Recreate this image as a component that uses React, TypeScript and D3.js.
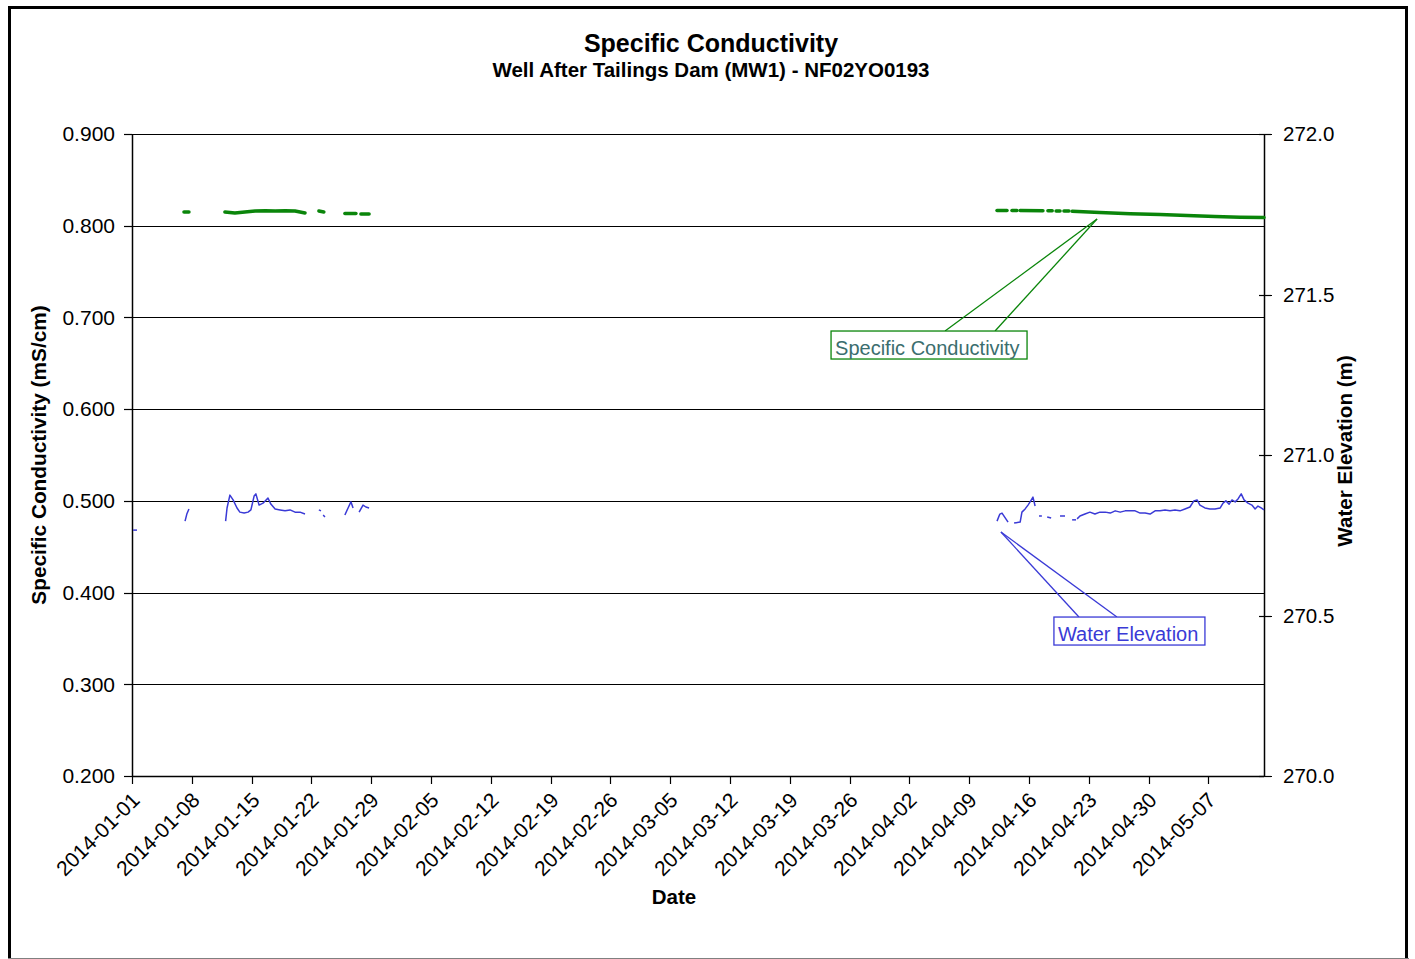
import React from "react";
import * as d3 from "d3";

// ---- Data ----
const chartTitle = "Specific Conductivity";
const chartSubtitle = "Well After Tailings Dam (MW1) - NF02YO0193";
const leftTicks = [0.2, 0.3, 0.4, 0.5, 0.6, 0.7, 0.8, 0.9];
const rightTicks = [270.0, 270.5, 271.0, 271.5, 272.0];

// Specific conductivity (mS/cm), segments of [datetime, value]
const condSegments: [string, number][][] = [
  [["2014-01-07 02:00", 0.815], ["2014-01-07 16:00", 0.815]],
  [
    ["2014-01-11 21:00", 0.815], ["2014-01-13 01:00", 0.8139], ["2014-01-14 05:00", 0.815],
    ["2014-01-15 10:00", 0.816], ["2014-01-16 14:00", 0.8162], ["2014-01-17 18:00", 0.816],
    ["2014-01-18 22:00", 0.8162], ["2014-01-20 02:00", 0.816], ["2014-01-20 16:00", 0.815],
    ["2014-01-21 06:00", 0.8139],
  ],
  [["2014-01-22 21:00", 0.816], ["2014-01-23 11:00", 0.815]],
  [["2014-01-25 22:00", 0.8133], ["2014-01-27 05:00", 0.8133]],
  [["2014-01-27 19:00", 0.8128], ["2014-01-28 18:00", 0.8128]],
  [["2014-04-12 06:00", 0.8165], ["2014-04-13 10:00", 0.8165]],
  [["2014-04-14 00:00", 0.8165], ["2014-04-14 14:00", 0.8165]],
  [["2014-04-14 23:00", 0.8165], ["2014-04-17 15:00", 0.8163]],
  [["2014-04-18 05:00", 0.8162], ["2014-04-18 17:00", 0.8162]],
  [["2014-04-19 04:00", 0.8161], ["2014-04-19 15:00", 0.8161]],
  [["2014-04-20 02:00", 0.816], ["2014-04-20 16:00", 0.816]],
  [
    ["2014-04-21 01:00", 0.8157], ["2014-04-24 07:00", 0.8145], ["2014-04-27 20:00", 0.813],
    ["2014-05-01 08:00", 0.8122], ["2014-05-04 12:00", 0.8112], ["2014-05-07 18:00", 0.81],
    ["2014-05-10 17:00", 0.8092], ["2014-05-13 12:00", 0.809],
  ],
];

// Water elevation (m), segments of [datetime, value]
const elevSegments: [string, number][][] = [
  [["2014-01-01 03:00", 270.766], ["2014-01-01 14:00", 270.766]],
  [["2014-01-07 05:00", 270.794], ["2014-01-07 10:00", 270.816], ["2014-01-07 16:00", 270.832]],
  [
    ["2014-01-11 23:00", 270.794], ["2014-01-12 03:00", 270.835], ["2014-01-12 11:00", 270.875],
    ["2014-01-12 20:00", 270.86], ["2014-01-13 07:00", 270.835], ["2014-01-13 15:00", 270.822],
    ["2014-01-14 03:00", 270.819], ["2014-01-14 14:00", 270.822], ["2014-01-14 22:00", 270.829],
    ["2014-01-15 07:00", 270.872], ["2014-01-15 12:00", 270.879], ["2014-01-15 21:00", 270.844],
    ["2014-01-16 08:00", 270.85], ["2014-01-16 22:00", 270.866], ["2014-01-17 06:00", 270.847],
    ["2014-01-17 18:00", 270.832], ["2014-01-18 08:00", 270.829], ["2014-01-18 22:00", 270.826],
    ["2014-01-19 12:00", 270.829], ["2014-01-20 02:00", 270.822], ["2014-01-20 16:00", 270.822],
    ["2014-01-21 06:00", 270.816],
  ],
  [["2014-01-22 21:00", 270.829], ["2014-01-23 03:00", 270.826]],
  [["2014-01-23 09:00", 270.813], ["2014-01-23 14:00", 270.807]],
  [["2014-01-25 22:00", 270.813], ["2014-01-26 07:00", 270.835], ["2014-01-26 15:00", 270.854], ["2014-01-26 21:00", 270.835]],
  [["2014-01-27 14:00", 270.822], ["2014-01-28 01:00", 270.844], ["2014-01-28 09:00", 270.838], ["2014-01-28 18:00", 270.835]],
  [
    ["2014-04-12 06:00", 270.794], ["2014-04-12 14:00", 270.816], ["2014-04-12 20:00", 270.819],
    ["2014-04-13 05:00", 270.804], ["2014-04-13 13:00", 270.791],
  ],
  [
    ["2014-04-14 06:00", 270.788], ["2014-04-14 23:00", 270.791], ["2014-04-15 04:00", 270.822],
    ["2014-04-15 13:00", 270.832], ["2014-04-15 21:00", 270.844], ["2014-04-16 03:00", 270.854],
    ["2014-04-16 11:00", 270.869], ["2014-04-16 17:00", 270.841],
  ],
  [["2014-04-17 04:00", 270.81], ["2014-04-17 12:00", 270.81]],
  [["2014-04-18 03:00", 270.807], ["2014-04-18 14:00", 270.804]],
  [["2014-04-19 15:00", 270.81], ["2014-04-20 05:00", 270.81]],
  [["2014-04-21 01:00", 270.798], ["2014-04-21 12:00", 270.798]],
  [
    ["2014-04-21 15:00", 270.801], ["2014-04-21 23:00", 270.81], ["2014-04-22 13:00", 270.816],
    ["2014-04-23 03:00", 270.822], ["2014-04-23 17:00", 270.816], ["2014-04-24 07:00", 270.822],
    ["2014-04-24 22:00", 270.822], ["2014-04-25 12:00", 270.819], ["2014-04-26 02:00", 270.826],
    ["2014-04-26 16:00", 270.822], ["2014-04-27 06:00", 270.826], ["2014-04-27 20:00", 270.826],
    ["2014-04-28 10:00", 270.826], ["2014-04-29 00:00", 270.819], ["2014-04-29 14:00", 270.819],
    ["2014-04-30 04:00", 270.816], ["2014-04-30 18:00", 270.826], ["2014-05-01 08:00", 270.826],
    ["2014-05-01 22:00", 270.829], ["2014-05-02 12:00", 270.826], ["2014-05-03 02:00", 270.829],
    ["2014-05-03 16:00", 270.826], ["2014-05-04 06:00", 270.832], ["2014-05-04 20:00", 270.838],
    ["2014-05-05 07:00", 270.857], ["2014-05-05 16:00", 270.86], ["2014-05-06 00:00", 270.844],
    ["2014-05-06 14:00", 270.835], ["2014-05-07 04:00", 270.832], ["2014-05-07 18:00", 270.832],
    ["2014-05-08 09:00", 270.835], ["2014-05-08 17:00", 270.85], ["2014-05-09 01:00", 270.857],
    ["2014-05-09 10:00", 270.847], ["2014-05-09 18:00", 270.86], ["2014-05-10 03:00", 270.854],
    ["2014-05-10 11:00", 270.863], ["2014-05-10 20:00", 270.879], ["2014-05-11 04:00", 270.86],
    ["2014-05-11 15:00", 270.85], ["2014-05-12 02:00", 270.844], ["2014-05-12 11:00", 270.832],
    ["2014-05-12 19:00", 270.841], ["2014-05-13 04:00", 270.835], ["2014-05-13 12:00", 270.829],
  ],
];

// Callout anchors (data coordinates)
const condCallout = { label: "Specific Conductivity", date: "2014-04-23 23:00", value: 0.8073 };
const elevCallout = { label: "Water Elevation", date: "2014-04-12 17:00", value: 270.76 };

const FONT = "'Liberation Sans', Arial, sans-serif";
const GREEN = "#0a850a";
const BLUE = "#3a3ad6";

export default function App() {
  const W = 1415, H = 959;
  const m = { left: 132, right: 1264, top: 134, bottom: 776 };
  const parse = d3.timeParse("%Y-%m-%d %H:%M");
  const x = d3.scaleTime()
    .domain([new Date(2014, 0, 1), new Date(2014, 4, 13, 12)])
    .range([m.left, m.right]);
  const yL = d3.scaleLinear().domain([0.2, 0.9]).range([m.bottom, m.top]);
  const yR = d3.scaleLinear().domain([270, 272]).range([m.bottom, m.top]);
  const xTicks = d3.timeDay.range(new Date(2014, 0, 1), new Date(2014, 4, 13, 12), 7);
  const fmt = d3.timeFormat("%Y-%m-%d");

  const condLine = d3.line<[string, number]>().x((d) => x(parse(d[0])!)).y((d) => yL(d[1]));
  const elevLine = d3.line<[string, number]>().x((d) => x(parse(d[0])!)).y((d) => yR(d[1]));

  const cTipX = x(parse(condCallout.date)!), cTipY = yL(condCallout.value);
  const eTipX = x(parse(elevCallout.date)!), eTipY = yR(elevCallout.value);
  const cBox = { x: cTipX - 266, y: cTipY + 112, w: 196, h: 28 };
  const eBox = { x: eTipX + 53, y: eTipY + 85, w: 151, h: 28 };

  return (
    <svg width={W} height={H} style={{ position: "absolute", left: 0, top: 0, background: "#fff" }} fontFamily={FONT}>
      <rect x={0} y={0} width={W} height={H} fill="#fff" />
      <rect x={9.5} y={7.5} width={1397} height={960} fill="none" stroke="#000" strokeWidth={3} />
      <line x1={8} x2={1409} y1={958.5} y2={958.5} stroke="#808080" strokeWidth={1} />

      <text x={711} y={52} textAnchor="middle" fontSize={25} fontWeight="bold">{chartTitle}</text>
      <text x={711} y={77} textAnchor="middle" fontSize={20.5} fontWeight="bold">{chartSubtitle}</text>

      {leftTicks.map((t) => (
        <line key={"g" + t} x1={m.left} x2={m.right} y1={Math.round(yL(t)) + 0.5} y2={Math.round(yL(t)) + 0.5} stroke="#000" strokeWidth={1.2} />
      ))}
      <line x1={m.left + 0.5} x2={m.left + 0.5} y1={m.top} y2={m.bottom} stroke="#000" strokeWidth={1.5} />
      <line x1={m.right + 0.5} x2={m.right + 0.5} y1={m.top} y2={m.bottom} stroke="#000" strokeWidth={1.5} />
      <line x1={m.left} x2={m.right} y1={m.bottom + 0.5} y2={m.bottom + 0.5} stroke="#000" strokeWidth={1.5} />

      {leftTicks.map((t) => (
        <g key={"l" + t}>
          <line x1={m.left - 8} x2={m.left} y1={Math.round(yL(t)) + 0.5} y2={Math.round(yL(t)) + 0.5} stroke="#000" strokeWidth={1.2} />
          <text x={115} y={yL(t)} dy="0.35em" textAnchor="end" fontSize={21}>{t.toFixed(3)}</text>
        </g>
      ))}
      {rightTicks.map((t) => (
        <g key={"r" + t}>
          <line x1={m.right - 5} x2={m.right + 8} y1={Math.round(yR(t)) + 0.5} y2={Math.round(yR(t)) + 0.5} stroke="#000" strokeWidth={1.2} />
          <text x={1283} y={yR(t)} dy="0.35em" textAnchor="start" fontSize={20.5}>{t.toFixed(1)}</text>
        </g>
      ))}
      {xTicks.map((t) => {
        const px = Math.round(x(t)) + 0.5;
        return (
          <g key={"x" + t.getTime()}>
            <line x1={px} x2={px} y1={m.bottom} y2={m.bottom + 8} stroke="#000" strokeWidth={1.2} />
            <text transform={`translate(${px - 2},${m.bottom + 15}) rotate(-45)`} textAnchor="end" dy="0.7em" fontSize={21}>{fmt(t)}</text>
          </g>
        );
      })}

      <text transform={`translate(46,455) rotate(-90)`} textAnchor="middle" fontSize={20.8} fontWeight="bold">Specific Conductivity  (mS/cm)</text>
      <text transform={`translate(1352,451) rotate(-90)`} textAnchor="middle" fontSize={20.6} fontWeight="bold">Water Elevation (m)</text>
      <text x={674} y={904} textAnchor="middle" fontSize={20.5} fontWeight="bold">Date</text>

      {condSegments.map((seg, i) => (
        <path key={"c" + i} d={condLine(seg)!} fill="none" stroke={GREEN} strokeWidth={3.5} strokeLinecap="round" strokeLinejoin="round" />
      ))}
      {elevSegments.map((seg, i) => (
        <path key={"e" + i} d={elevLine(seg)!} fill="none" stroke={BLUE} strokeWidth={1.5} strokeLinejoin="round" />
      ))}

      <g>
        <line x1={cBox.x + 114} y1={cBox.y} x2={cTipX} y2={cTipY} stroke={GREEN} strokeWidth={1.3} />
        <line x1={cBox.x + 164} y1={cBox.y} x2={cTipX} y2={cTipY} stroke={GREEN} strokeWidth={1.3} />
        <rect x={cBox.x} y={cBox.y} width={cBox.w} height={cBox.h} fill="#fff" stroke={GREEN} strokeWidth={1.3} />
        <text x={cBox.x + 4} y={cBox.y + 24} fontSize={20} fill="#3b6e6e">{condCallout.label}</text>
      </g>
      <g>
        <line x1={eBox.x + 25} y1={eBox.y} x2={eTipX} y2={eTipY} stroke={BLUE} strokeWidth={1.3} />
        <line x1={eBox.x + 63} y1={eBox.y} x2={eTipX} y2={eTipY} stroke={BLUE} strokeWidth={1.3} />
        <rect x={eBox.x} y={eBox.y} width={eBox.w} height={eBox.h} fill="#fff" stroke={BLUE} strokeWidth={1.3} />
        <text x={eBox.x + 4} y={eBox.y + 24} fontSize={20} fill={BLUE}>{elevCallout.label}</text>
      </g>
    </svg>
  );
}
